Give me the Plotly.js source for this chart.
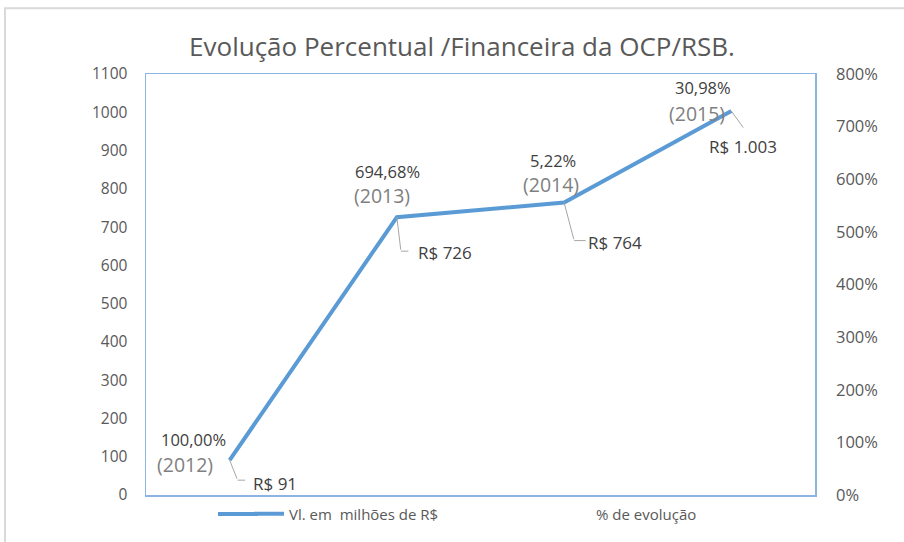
<!DOCTYPE html>
<html>
<head>
<meta charset="utf-8">
<script src="https://cdn.plot.ly/plotly-3.0.1.min.js"></script>
<style>html,body{margin:0;padding:0;background:#fff;}#chart{width:904px;height:542px;}</style>
</head>
<body>
<div id="chart"></div>
<script>
const years = ['2012', '2013', '2014', '2015'];
const valores = [91, 726, 764, 1003];
const valorLabels = ['R$ 91', 'R$ 726', 'R$ 764', 'R$ 1.003'];
const percentuais = [100.00, 694.68, 5.22, 30.98];
const percentLabels = ['100,00%', '694,68%', '5,22%', '30,98%'];
const yearLabels = ['(2012)', '(2013)', '(2014)', '(2015)'];

const FONT = 'Open Sans, sans-serif';
const GRAY = '#595959';
const LEADER = '#a6a6a6';
const LINE = '#5b9bd5';

const traces = [
  {
    x: years, y: valores, type: 'scatter', mode: 'lines',
    name: 'Vl. em  milhões de R$',
    line: {color: LINE, width: 4},
    hoverinfo: 'skip'
  },
  {
    x: years, y: percentuais, type: 'scatter', mode: 'lines',
    name: '% de evolução', yaxis: 'y2',
    line: {color: 'rgba(0,0,0,0)', width: 0},
    hoverinfo: 'skip'
  }
];

// label offsets in pixels relative to each point (right / down positive)
const pctOff = [[-36, -20.5], [-9, -45.5], [-11, -42.5], [-28, -23.5]];
const yrOff = [[-45, 4.5], [-15, -21.5], [-13, -18.5], [-34, 2.5]];
const valOff = [[45, 23], [48, 35], [51, 40], [12, 35]];
// leader lines: elbow relative to point, then horizontal length
const elbow = [[8, 20], [4, 34], [10, 38], [13, 18]];
const hLen = [9, 9, 13, 0];

const annotations = [];
years.forEach((yr, i) => {
  annotations.push({
    x: i, y: valores[i], xref: 'x', yref: 'y',
    text: percentLabels[i], showarrow: false, borderpad: 0,
    xshift: pctOff[i][0], yshift: -pctOff[i][1],
    font: {family: FONT, size: 16.5, color: '#404040'}
  });
  annotations.push({
    x: i, y: valores[i], xref: 'x', yref: 'y',
    text: yearLabels[i], showarrow: false, borderpad: 0,
    xshift: yrOff[i][0], yshift: -yrOff[i][1],
    font: {family: FONT, size: 19.5, color: '#7f7f7f'}
  });
  annotations.push({
    x: i, y: valores[i], xref: 'x', yref: 'y',
    text: valorLabels[i], showarrow: false,
    xshift: valOff[i][0], yshift: -valOff[i][1],
    font: {family: FONT, size: 17, color: '#404040'}
  });
  // leader: point -> elbow
  annotations.push({
    x: i, y: valores[i], xref: 'x', yref: 'y',
    text: '', showarrow: true, arrowhead: 0, arrowwidth: 1,
    arrowcolor: LEADER, standoff: 0, startstandoff: 0,
    ax: elbow[i][0], ay: elbow[i][1]
  });
  if (hLen[i] > 0) {
    annotations.push({
      x: i, y: valores[i], xref: 'x', yref: 'y',
      xshift: elbow[i][0], yshift: -elbow[i][1],
      text: '', showarrow: true, arrowhead: 0, arrowwidth: 1,
      arrowcolor: LEADER, standoff: 0, startstandoff: 0,
      ax: hLen[i], ay: 0
    });
  }
});

const legendY = -0.045;

const layout = {
  width: 904, height: 542,
  margin: {l: 146, r: 89, t: 74, b: 45, pad: 0},
  paper_bgcolor: '#ffffff', plot_bgcolor: '#ffffff',
  title: {
    text: 'Evolução Percentual /Financeira da OCP/RSB.',
    font: {family: FONT, size: 26, color: GRAY},
    x: 462 / 904, xanchor: 'center', xref: 'container',
    y: 1 - 47 / 542, yanchor: 'middle', yref: 'container'
  },
  showlegend: true,
  legend: {
    orientation: 'h', x: (249 - 146) / 669, xanchor: 'left', y: legendY, yanchor: 'middle',
    font: {family: FONT, size: 15, color: GRAY},
    entrywidth: 262, entrywidthmode: 'pixels',
    bgcolor: 'rgba(0,0,0,0)'
  },
  xaxis: {
    type: 'category', range: [-0.5, 3.5],
    showticklabels: false, ticks: '', showgrid: false, zeroline: false,
    showline: true, mirror: true, linecolor: '#8eb4e3', linewidth: 1.5
  },
  yaxis: {
    range: [0, 1100], dtick: 100, tick0: 0,
    showgrid: false, zeroline: false, ticks: '',
    showline: true, mirror: true, linecolor: '#8eb4e3', linewidth: 1.5,
    tickfont: {family: FONT, size: 15.5, color: GRAY},
    ticklabelstandoff: 14
  },
  yaxis2: {
    overlaying: 'y', side: 'right', range: [0, 800], dtick: 100, tick0: 0,
    ticksuffix: '%', showgrid: false, zeroline: false, ticks: '', showline: false,
    tickfont: {family: FONT, size: 16.5, color: GRAY},
    ticklabelstandoff: 20
  },
  shapes: [
    {type: 'rect', xref: 'paper', yref: 'paper',
     x0: (5 - 146) / 669, x1: (920 - 146) / 669,
     y0: (497 - 560) / 423, y1: (497 - 8) / 423,
     line: {color: '#d9d9d9', width: 2}, fillcolor: 'rgba(0,0,0,0)', layer: 'below'},
    // longer legend key, as in the reference
    {type: 'line', xref: 'paper', yref: 'paper',
     x0: (218 - 146) / 669, x1: (258 - 146) / 669,
     y0: legendY, y1: legendY,
     line: {color: LINE, width: 4}}
  ],
  annotations: annotations
};

Plotly.newPlot('chart', traces, layout, {displayModeBar: false, staticPlot: true});
</script>
</body>
</html>
